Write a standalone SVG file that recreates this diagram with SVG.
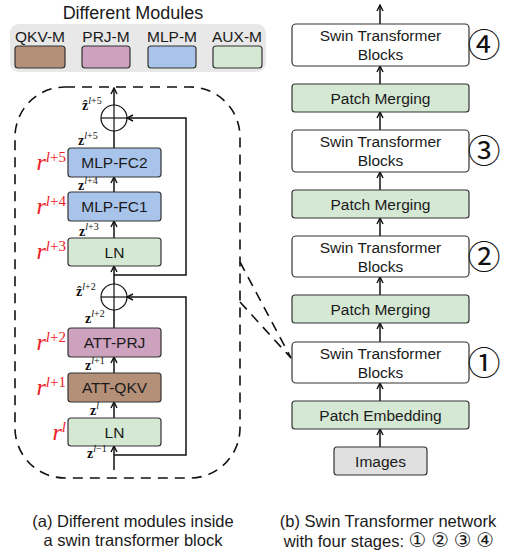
<svg xmlns="http://www.w3.org/2000/svg" width="518" height="554" viewBox="0 0 518 554">
<defs>
<style>
.t{font-family:"Liberation Sans",Arial,sans-serif;fill:#1a1a1a;text-anchor:middle}
.box{stroke:#333;stroke-width:1.2}
.ln{fill:none;stroke:#111;stroke-width:1.5}
.dash{fill:none;stroke:#111;stroke-width:1.6;stroke-dasharray:10 7}
.m{font-family:"Liberation Serif","DejaVu Serif",serif;fill:#111;font-size:14px}
.zb{font-weight:bold}
.sup{font-size:10px}
.r{font-family:"Liberation Serif","DejaVu Serif",serif;fill:#ee2229;text-anchor:end}
.rr{font-size:24px;font-style:italic}
.rs{font-size:15px}
.c{font-family:"Noto Sans CJK SC","DejaVu Sans",sans-serif;fill:#111;text-anchor:middle;font-size:33px}
.cs{font-family:"DejaVu Sans",sans-serif;font-size:20px}
.green{fill:#d5e8d4}.blue{fill:#a9c4eb}.pink{fill:#cda2be}.brown{fill:#b59079}.white{fill:#fff}.gray{fill:#e0e0e0}
</style>
<marker id="ah" viewBox="0 0 8 8" refX="7" refY="4" markerWidth="8" markerHeight="8" markerUnits="userSpaceOnUse" orient="auto">
<path d="M1,1 L7,4 L1,7" fill="none" stroke="#111" stroke-width="1.4"/>
</marker>
</defs>

<g id="legend">
<text class="t" x="133" y="19" font-size="18">Different Modules</text>
<rect x="10" y="24" width="256" height="48" rx="9" fill="#e8e8e8"/>
<text class="t" x="40" y="42" font-size="15.5">QKV-M</text>
<text class="t" x="106" y="42" font-size="15.5">PRJ-M</text>
<text class="t" x="172" y="42" font-size="15.5">MLP-M</text>
<text class="t" x="237" y="42" font-size="15.5">AUX-M</text>
<rect class="box brown" x="15" y="46" width="50" height="22" rx="3"/>
<rect class="box pink" x="82" y="46" width="48" height="22" rx="3"/>
<rect class="box blue" x="148" y="46" width="48" height="22" rx="3"/>
<rect class="box green" x="213" y="46" width="49" height="22" rx="3"/>
</g>

<g id="block-outline">
<rect class="dash" x="15" y="87" width="225" height="391" rx="50"/>
</g>

<g id="connectors">
<line class="ln" x1="114" y1="470" x2="114" y2="446" marker-end="url(#ah)"/>
<line class="ln" x1="114" y1="418" x2="114" y2="402" marker-end="url(#ah)"/>
<line class="ln" x1="114" y1="373" x2="114" y2="357" marker-end="url(#ah)"/>
<line class="ln" x1="114" y1="328" x2="114" y2="310"/>
<line class="ln" x1="114" y1="284" x2="114" y2="266" marker-end="url(#ah)"/>
<line class="ln" x1="114" y1="238" x2="114" y2="221" marker-end="url(#ah)"/>
<line class="ln" x1="114" y1="192" x2="114" y2="177" marker-end="url(#ah)"/>
<line class="ln" x1="114" y1="148" x2="114" y2="131"/>
<line class="ln" x1="114" y1="105" x2="114" y2="88" marker-end="url(#ah)"/>
<polyline class="ln" points="114,455 186,455 186,297 127,297" marker-end="url(#ah)"/>
<polyline class="ln" points="114,275 186,275 186,118 127,118" marker-end="url(#ah)"/>
<line class="dash" x1="240" y1="262" x2="291" y2="358"/>
<line class="dash" x1="240" y1="302" x2="291" y2="358"/>
<line class="ln" x1="380" y1="447" x2="380" y2="429" marker-end="url(#ah)"/>
<line class="ln" x1="380" y1="401" x2="380" y2="383" marker-end="url(#ah)"/>
<line class="ln" x1="380" y1="342" x2="380" y2="323" marker-end="url(#ah)"/>
<line class="ln" x1="380" y1="295" x2="380" y2="277" marker-end="url(#ah)"/>
<line class="ln" x1="380" y1="236" x2="380" y2="218" marker-end="url(#ah)"/>
<line class="ln" x1="380" y1="190" x2="380" y2="172" marker-end="url(#ah)"/>
<line class="ln" x1="380" y1="130" x2="380" y2="112" marker-end="url(#ah)"/>
<line class="ln" x1="380" y1="84" x2="380" y2="66" marker-end="url(#ah)"/>
<line class="ln" x1="380" y1="24" x2="380" y2="5" marker-end="url(#ah)"/>
</g>

<g id="add-top">
<circle cx="114" cy="118" r="13" fill="none" stroke="#111" stroke-width="1.2"/>
<line x1="101" y1="118" x2="127" y2="118" stroke="#111" stroke-width="1.2"/>
<line x1="114" y1="105" x2="114" y2="131" stroke="#111" stroke-width="1.2"/>
</g>
<g id="add-bottom">
<circle cx="114" cy="297" r="13" fill="none" stroke="#111" stroke-width="1.2"/>
<line x1="101" y1="297" x2="127" y2="297" stroke="#111" stroke-width="1.2"/>
<line x1="114" y1="284" x2="114" y2="310" stroke="#111" stroke-width="1.2"/>
</g>

<g id="mlp-fc2"><rect class="box blue" x="68" y="148" width="93" height="29" rx="3"/><text class="t" x="114.5" y="168" font-size="15.5">MLP-FC2</text></g>
<g id="mlp-fc1"><rect class="box blue" x="68" y="192" width="93" height="29" rx="3"/><text class="t" x="114.5" y="212" font-size="15.5">MLP-FC1</text></g>
<g id="ln-top"><rect class="box green" x="68" y="238" width="93" height="28" rx="3"/><text class="t" x="114.5" y="258" font-size="15.5">LN</text></g>
<g id="att-prj"><rect class="box pink" x="68" y="328" width="93" height="29" rx="3"/><text class="t" x="114.5" y="348" font-size="15.5">ATT-PRJ</text></g>
<g id="att-qkv"><rect class="box brown" x="68" y="373" width="93" height="29" rx="3"/><text class="t" x="114.5" y="393" font-size="15.5">ATT-QKV</text></g>
<g id="ln-bottom"><rect class="box green" x="68" y="418" width="93" height="28" rx="3"/><text class="t" x="114.5" y="438" font-size="15.5">LN</text></g>

<g id="math-labels">
<text class="m" x="82" y="110"><tspan class="zb">ẑ</tspan><tspan class="sup" dy="-6"><tspan font-style="italic">l</tspan>+5</tspan></text>
<text class="m" x="78" y="145"><tspan class="zb">z</tspan><tspan class="sup" dy="-6"><tspan font-style="italic">l</tspan>+5</tspan></text>
<text class="m" x="78" y="190"><tspan class="zb">z</tspan><tspan class="sup" dy="-6"><tspan font-style="italic">l</tspan>+4</tspan></text>
<text class="m" x="79" y="236"><tspan class="zb">z</tspan><tspan class="sup" dy="-6"><tspan font-style="italic">l</tspan>+3</tspan></text>
<text class="m" x="76" y="296"><tspan class="zb">ẑ</tspan><tspan class="sup" dy="-6"><tspan font-style="italic">l</tspan>+2</tspan></text>
<text class="m" x="85" y="323"><tspan class="zb">z</tspan><tspan class="sup" dy="-6"><tspan font-style="italic">l</tspan>+2</tspan></text>
<text class="m" x="85" y="370"><tspan class="zb">z</tspan><tspan class="sup" dy="-6"><tspan font-style="italic">l</tspan>+1</tspan></text>
<text class="m" x="90" y="415"><tspan class="zb">z</tspan><tspan class="sup" dy="-6" font-style="italic">l</tspan></text>
<text class="m" x="87" y="458"><tspan class="zb">z</tspan><tspan class="sup" dy="-6"><tspan font-style="italic">l</tspan>−1</tspan></text>
</g>

<g id="r-labels">
<text class="r" x="66" y="170"><tspan class="rr">r</tspan><tspan class="rs" dy="-8"><tspan font-style="italic">l</tspan>+5</tspan></text>
<text class="r" x="66" y="214"><tspan class="rr">r</tspan><tspan class="rs" dy="-8"><tspan font-style="italic">l</tspan>+4</tspan></text>
<text class="r" x="66" y="259"><tspan class="rr">r</tspan><tspan class="rs" dy="-8"><tspan font-style="italic">l</tspan>+3</tspan></text>
<text class="r" x="66" y="350"><tspan class="rr">r</tspan><tspan class="rs" dy="-8"><tspan font-style="italic">l</tspan>+2</tspan></text>
<text class="r" x="66" y="395"><tspan class="rr">r</tspan><tspan class="rs" dy="-8"><tspan font-style="italic">l</tspan>+1</tspan></text>
<text class="r" x="66" y="440"><tspan class="rr">r</tspan><tspan class="rs" dy="-8" font-style="italic">l</tspan></text>
</g>

<g id="swin4"><rect class="box white" x="292" y="24" width="177" height="42" rx="4"/><text class="t" x="380.5" y="41" font-size="15.5">Swin Transformer</text><text class="t" x="380.5" y="60" font-size="15.5">Blocks</text></g>
<g id="pm3"><rect class="box green" x="292" y="84" width="177" height="28" rx="3"/><text class="t" x="380.5" y="104" font-size="15.5">Patch Merging</text></g>
<g id="swin3"><rect class="box white" x="292" y="130" width="177" height="42" rx="4"/><text class="t" x="380.5" y="147" font-size="15.5">Swin Transformer</text><text class="t" x="380.5" y="166" font-size="15.5">Blocks</text></g>
<g id="pm2"><rect class="box green" x="292" y="190" width="177" height="28" rx="3"/><text class="t" x="380.5" y="210" font-size="15.5">Patch Merging</text></g>
<g id="swin2"><rect class="box white" x="292" y="236" width="177" height="41" rx="4"/><text class="t" x="380.5" y="253" font-size="15.5">Swin Transformer</text><text class="t" x="380.5" y="272" font-size="15.5">Blocks</text></g>
<g id="pm1"><rect class="box green" x="292" y="295" width="177" height="28" rx="3"/><text class="t" x="380.5" y="315" font-size="15.5">Patch Merging</text></g>
<g id="swin1"><rect class="box white" x="292" y="342" width="177" height="41" rx="4"/><text class="t" x="380.5" y="359" font-size="15.5">Swin Transformer</text><text class="t" x="380.5" y="378" font-size="15.5">Blocks</text></g>
<g id="patch-embedding"><rect class="box green" x="292" y="401" width="177" height="28" rx="3"/><text class="t" x="380.5" y="421" font-size="15.5">Patch Embedding</text></g>
<g id="images"><rect class="box gray" x="334" y="447" width="93" height="28" rx="3"/><text class="t" x="380.5" y="467" font-size="15.5">Images</text></g>

<g id="stage-numbers">
<text class="c" x="484" y="57">④</text>
<text class="c" x="484" y="163">③</text>
<text class="c" x="484" y="269">②</text>
<text class="c" x="484" y="375">①</text>
</g>

<g id="captions">
<text class="t" x="133" y="527" font-size="16.5">(a) Different modules inside</text>
<text class="t" x="133" y="546" font-size="16.5">a swin transformer block</text>
<text class="t" x="388" y="527" font-size="16.5">(b) Swin Transformer network</text>
<text class="t" x="389" y="547" font-size="16.5">with four stages: <tspan class="cs">①</tspan> <tspan class="cs">②</tspan> <tspan class="cs">③</tspan> <tspan class="cs">④</tspan></text>
</g>
</svg>
